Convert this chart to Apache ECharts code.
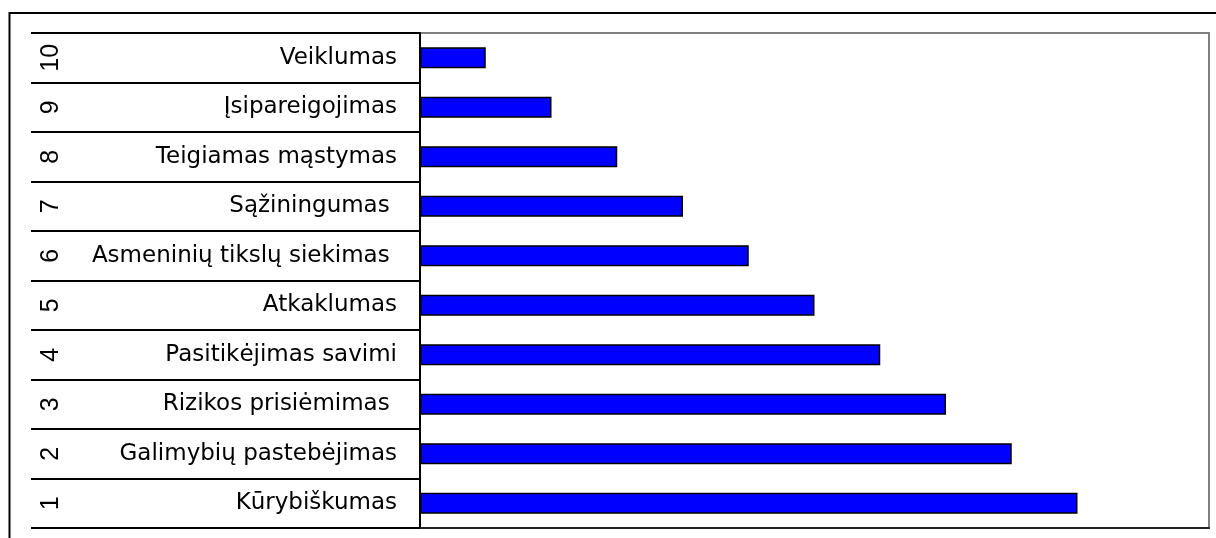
<!DOCTYPE html>
<html>
<head>
<meta charset="utf-8">
<script src="https://cdn.jsdelivr.net/npm/echarts@6/dist/echarts.min.js"></script>
<style>
html,body{margin:0;padding:0;background:#fff;}
#chart{width:1216px;height:538px;}
</style>
</head>
<body>
<div id="chart"></div>
<script>
// categories, bottom to top
const categories = ['Kūrybiškumas', 'Galimybių pastebėjimas', 'Rizikos prisiėmimas ', 'Pasitikėjimas savimi', 'Atkaklumas', 'Asmeninių tikslų siekimas ', 'Sąžiningumas ', 'Teigiamas mąstymas', 'Įsipareigojimas', 'Veiklumas'];
const rankLabels = ['1', '2', '3', '4', '5', '6', '7', '8', '9', '10'];
const values = [10, 9, 8, 7, 6, 5, 4, 3, 2, 1];
const xMin = 0;
const xMax = 12;

const chart = echarts.init(document.getElementById('chart'), null, {renderer: 'canvas'});
chart.setOption({
  animation: false,
  backgroundColor: '#fff',
  grid: {
    left: 420, top: 33, right: 7, bottom: 10,
    show: true, borderColor: '#808080', borderWidth: 2, backgroundColor: '#fff'
  },
  graphic: [{
    type: 'rect', z: 100, silent: true,
    shape: {x: 9.5, y: 13, width: 1400, height: 700},
    style: {fill: 'none', stroke: '#000', lineWidth: 2}
  }],
  xAxis: {
    type: 'value', min: xMin, max: xMax,
    axisLine: {show: true, lineStyle: {color: '#222', width: 2}},
    axisTick: {show: false}, axisLabel: {show: false}, splitLine: {show: false}
  },
  yAxis: [{
    type: 'category', data: categories, position: 'left',
    axisLine: {show: true, lineStyle: {color: '#000', width: 2}},
    axisTick: {show: true, length: 389, lineStyle: {color: '#000', width: 2}},
    axisLabel: {margin: 23, fontSize: 23, fontFamily: 'DejaVu Sans', color: '#000'},
    splitLine: {show: false}
  }, {
    type: 'category', data: rankLabels, position: 'left', offset: 348,
    axisLine: {show: false}, axisTick: {show: false},
    axisLabel: {margin: 8, rotate: 90, fontSize: 25, fontFamily: 'Liberation Sans', color: '#000'},
    splitLine: {show: false}
  }],
  series: [{
    type: 'bar', yAxisIndex: 0, data: values, barWidth: 21,
    itemStyle: {color: '#0000FF', borderColor: '#000', borderWidth: 1.5}
  }]
});
</script>
</body>
</html>
